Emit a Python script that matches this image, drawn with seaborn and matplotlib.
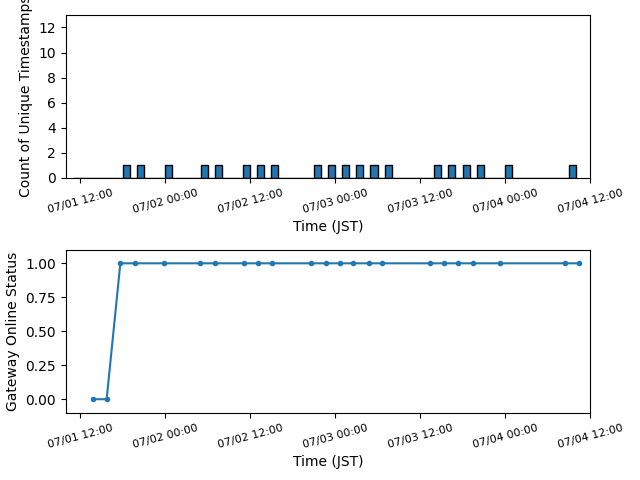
# Gateway online status and unique timestamp counts (JST)

import pandas as pd
import numpy as np
import seaborn as sns
import matplotlib.pyplot as plt
import matplotlib.dates as mdates

# Timestamps seen per hour (one per bin)
timestamp_times = [
    "2024-07-01 18:30", "2024-07-01 20:30", "2024-07-02 00:30", "2024-07-02 05:30",
    "2024-07-02 07:30", "2024-07-02 11:30", "2024-07-02 13:30", "2024-07-02 15:30",
    "2024-07-02 21:30", "2024-07-02 23:30", "2024-07-03 01:30", "2024-07-03 03:30",
    "2024-07-03 05:30", "2024-07-03 07:30", "2024-07-03 14:30", "2024-07-03 16:30",
    "2024-07-03 18:30", "2024-07-03 20:30", "2024-07-04 00:30", "2024-07-04 09:30",
]

# Gateway status samples
status_times = [
    "2024-07-01 13:48", "2024-07-01 15:45", "2024-07-01 17:41", "2024-07-01 19:41",
    "2024-07-01 23:49", "2024-07-02 04:52", "2024-07-02 07:01", "2024-07-02 11:05",
    "2024-07-02 13:05", "2024-07-02 15:02", "2024-07-02 20:34", "2024-07-02 22:40",
    "2024-07-03 00:39", "2024-07-03 02:36", "2024-07-03 04:44", "2024-07-03 06:41",
    "2024-07-03 13:20", "2024-07-03 15:20", "2024-07-03 17:17", "2024-07-03 19:25",
    "2024-07-03 23:19", "2024-07-04 08:30", "2024-07-04 10:29",
]
status_values = [0, 0, 1, 1, 1, 1, 1, 1, 1, 1, 1, 1, 1, 1, 1, 1, 1, 1, 1, 1, 1, 1, 1]

ts = mdates.date2num(pd.to_datetime(timestamp_times))
bin_edges = mdates.date2num(pd.date_range("2024-07-01 11:00", "2024-07-04 10:00", freq="1h"))

status_df = pd.DataFrame({
    "time": pd.to_datetime(status_times),
    "status": status_values,
})

x_min = pd.Timestamp("2024-07-01 10:00")
x_max = pd.Timestamp("2024-07-04 12:00")

fig, (ax1, ax2) = plt.subplots(2, 1, figsize=(6.4, 4.8))

# Top: histogram of unique timestamps
sns.histplot(x=ts, bins=bin_edges, ax=ax1, color="#1f77b4", edgecolor="black",
             alpha=1, linewidth=1)
ax1.set_ylim(0, 13)
ax1.set_yticks(range(0, 13, 2))
ax1.set_xlim(mdates.date2num(x_min), mdates.date2num(x_max))
ax1.set_ylabel("Count of Unique Timestamps")
ax1.set_xlabel("Time (JST)")

# Bottom: online status over time
sns.lineplot(data=status_df, x="time", y="status", ax=ax2, marker="o",
             markersize=4, markeredgewidth=0, color="#1f77b4")
ax2.set_xlim(x_min, x_max)
ax2.set_ylim(-0.1, 1.1)
ax2.set_ylabel("Gateway Online Status")
ax2.set_xlabel("Time (JST)")

for ax in (ax1, ax2):
    ax.xaxis.set_major_locator(mdates.HourLocator(byhour=[0, 12]))
    ax.xaxis.set_major_formatter(mdates.DateFormatter("%m/%d %H:%M"))
    ax.tick_params(axis="x", labelsize=8, rotation=15)

plt.subplots_adjust(left=0.103, right=0.922, top=0.969, bottom=0.140, hspace=0.44)
plt.savefig("out.png", dpi=100)
